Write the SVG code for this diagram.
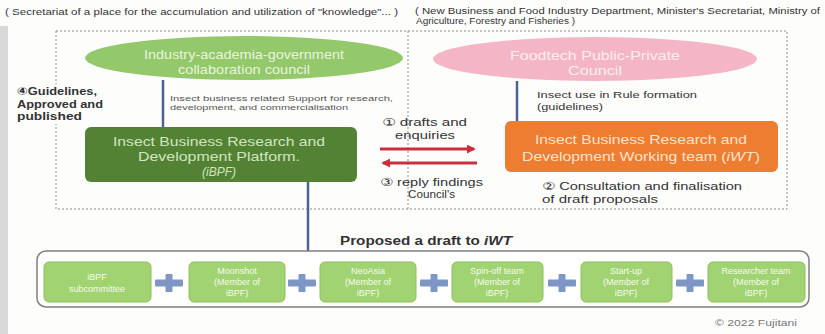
<svg xmlns="http://www.w3.org/2000/svg" width="825" height="334" viewBox="0 0 825 334">
<style>
text{font-family:"Liberation Sans","DejaVu Sans",sans-serif}
.hdr{font-size:8.5px;fill:#333}
.lbl{font-size:11px;fill:#333}
.sm{font-size:7.4px;fill:#555}
.mid{font-size:9.8px;fill:#333}
.ell{text-anchor:middle}
.box{font-size:12.8px;text-anchor:middle}
.mem{fill:#a2d372;stroke:#8cc15a;stroke-width:1}
.memt{font-size:9px;fill:#f4fbec;text-anchor:middle}
.plus{fill:#7f96c4}
.vline{stroke:#4f6296;stroke-width:2.5;fill:none}
.arr{stroke:#c9303e;stroke-width:3;fill:none}
</style>
<defs>
<marker id="ah" viewBox="0 0 10 10" refX="8" refY="5" markerWidth="3" markerHeight="3" orient="auto-start-reverse">
<path d="M0,0 L10,5 L0,10 z" fill="#c9303e"/>
</marker>
<g id="plusShape"><rect x="-14" y="-3.5" width="28" height="7" rx="1"/><rect x="-3.5" y="-9" width="7" height="18" rx="1"/></g>
</defs>
<rect width="825" height="334" fill="#fdfdfc"/>
<rect x="0" y="26" width="8" height="308" fill="#d9d9d9"/>

<text class="hdr" x="5" y="15" textLength="393" lengthAdjust="spacingAndGlyphs">( Secretariat of a place for the accumulation and utilization of "knowledge"... )</text>
<text class="hdr" x="415" y="14" textLength="405" lengthAdjust="spacingAndGlyphs">( New Business and Food Industry Department, Minister's Secretariat, Ministry of</text>
<text class="hdr" x="416" y="24" textLength="159" lengthAdjust="spacingAndGlyphs">Agriculture, Forestry and Fisheries )</text>

<g id="frame" fill="none" stroke="#8c8c8c" stroke-width="1" stroke-dasharray="2 2">
<rect x="56" y="31" width="731" height="178"/>
<line x1="408" y1="31" x2="408" y2="209"/>
</g>

<g id="connectors">
<line class="vline" x1="163" y1="80" x2="163" y2="127"/>
<line class="vline" x1="517" y1="81" x2="517" y2="121"/>
<line class="vline" x1="308" y1="182" x2="308" y2="251"/>
<line class="arr" x1="380" y1="149" x2="474" y2="149" marker-end="url(#ah)"/>
<line class="arr" x1="383" y1="163" x2="477" y2="163" marker-start="url(#ah)"/>
</g>

<g id="guidelines">
<rect x="14" y="84" width="95" height="40" fill="#fdfdfc"/>
<text class="lbl" font-size="10.5" font-weight="bold" x="17" y="95" textLength="80" lengthAdjust="spacingAndGlyphs">④Guidelines,</text>
<text class="lbl" font-size="10.5" font-weight="bold" x="17" y="108" textLength="86" lengthAdjust="spacingAndGlyphs">Approved and</text>
<text class="lbl" font-size="10.5" font-weight="bold" x="17" y="120" textLength="65" lengthAdjust="spacingAndGlyphs">published</text>
</g>

<g id="iag-council">
<ellipse cx="244" cy="58" rx="159" ry="22" fill="#93c86b"/>
<text class="ell" font-size="13" x="244" y="59" fill="#e8f4de" textLength="200" lengthAdjust="spacingAndGlyphs">Industry-academia-government</text>
<text class="ell" font-size="13" x="244" y="74" fill="#e8f4de" textLength="132" lengthAdjust="spacingAndGlyphs">collaboration council</text>
</g>

<g id="foodtech-council">
<ellipse cx="595" cy="59" rx="162" ry="22" fill="#f4b6c4"/>
<text class="ell" font-size="13" x="595" y="60" fill="#fdeef2" textLength="170" lengthAdjust="spacingAndGlyphs">Foodtech Public-Private</text>
<text class="ell" font-size="13" x="595" y="75" fill="#fdeef2" textLength="54" lengthAdjust="spacingAndGlyphs">Council</text>
</g>

<text class="sm" x="170" y="101" textLength="223" lengthAdjust="spacingAndGlyphs">Insect business related Support for research,</text>
<text class="sm" x="170" y="110" textLength="178" lengthAdjust="spacingAndGlyphs">development, and commercialisation</text>
<text class="mid" x="537" y="98" textLength="160" lengthAdjust="spacingAndGlyphs">Insect use in Rule formation</text>
<text class="mid" font-size="8.5" x="537" y="110" textLength="66" lengthAdjust="spacingAndGlyphs">(guidelines)</text>

<g id="ibpf">
<rect x="85" y="127" width="272" height="55" rx="6" fill="#548235"/>
<text class="box" x="219" y="146" fill="#cfe6bd" textLength="212" lengthAdjust="spacingAndGlyphs">Insect Business Research and</text>
<text class="box" x="219" y="161" fill="#cfe6bd" textLength="162" lengthAdjust="spacingAndGlyphs">Development Platform.</text>
<text class="box" x="219" y="176" fill="#cfe6bd" font-style="italic" font-size="11" textLength="34" lengthAdjust="spacingAndGlyphs">(iBPF)</text>
</g>

<g id="iwt">
<rect x="505" y="121" width="273" height="51" rx="6" fill="#ed7d31"/>
<text class="box" font-size="13.5" x="641" y="144" fill="#fde3cf" textLength="212" lengthAdjust="spacingAndGlyphs">Insect Business Research and</text>
<text class="box" font-size="13.5" x="641" y="161" fill="#fde3cf" textLength="238" lengthAdjust="spacingAndGlyphs">Development Working team (<tspan font-style="italic">iWT</tspan>)</text>
</g>

<text class="lbl" x="382" y="126" textLength="85" lengthAdjust="spacingAndGlyphs">① drafts and</text>
<text class="lbl" x="395" y="139" textLength="60" lengthAdjust="spacingAndGlyphs">enquiries</text>
<text class="lbl" font-size="10.5" x="380" y="186" textLength="103" lengthAdjust="spacingAndGlyphs">③ reply findings</text>
<text class="lbl" font-size="10.5" x="408" y="198" textLength="47" lengthAdjust="spacingAndGlyphs">Council's</text>
<text class="lbl" font-size="11.3" x="542" y="190" textLength="200" lengthAdjust="spacingAndGlyphs">② Consultation and finalisation</text>
<text class="lbl" font-size="11.3" x="542" y="203" textLength="116" lengthAdjust="spacingAndGlyphs">of draft proposals</text>

<text x="340" y="245" font-size="12.5" font-weight="bold" fill="#333" textLength="172" lengthAdjust="spacingAndGlyphs">Proposed a draft to <tspan font-style="italic">iWT</tspan></text>

<g id="members">
<rect x="37" y="251" width="772" height="56" rx="9" fill="#fff" stroke="#808080" stroke-width="1.5"/>
<g id="m1"><rect class="mem" x="44" y="262" width="107" height="40" rx="5"/>
<text class="memt" x="97" y="280">iBPF</text><text class="memt" x="97" y="292">subcommittee</text></g>
<g id="m2"><rect class="mem" x="189" y="262" width="96" height="40" rx="5"/>
<text class="memt" x="237" y="274">Moonshot</text><text class="memt" x="237" y="285">(Member of</text><text class="memt" x="237" y="296">iBPF)</text></g>
<g id="m3"><rect class="mem" x="320" y="262" width="96" height="40" rx="5"/>
<text class="memt" x="368" y="274">NeoAsia</text><text class="memt" x="368" y="285">(Member of</text><text class="memt" x="368" y="296">iBPF)</text></g>
<g id="m4"><rect class="mem" x="452" y="262" width="91" height="40" rx="5"/>
<text class="memt" x="497" y="274">Spin-off team</text><text class="memt" x="497" y="285">(Member of</text><text class="memt" x="497" y="296">iBPF)</text></g>
<g id="m5"><rect class="mem" x="581" y="262" width="91" height="40" rx="5"/>
<text class="memt" x="626" y="274">Start-up</text><text class="memt" x="626" y="285">(Member of</text><text class="memt" x="626" y="296">iBPF)</text></g>
<g id="m6"><rect class="mem" x="708" y="262" width="97" height="40" rx="5"/>
<text class="memt" x="756" y="274">Researcher team</text><text class="memt" x="756" y="285">(Member of</text><text class="memt" x="756" y="296">iBPF)</text></g>
<use href="#plusShape" class="plus" x="169" y="283"/>
<use href="#plusShape" class="plus" x="302" y="283"/>
<use href="#plusShape" class="plus" x="434" y="283"/>
<use href="#plusShape" class="plus" x="562" y="283"/>
<use href="#plusShape" class="plus" x="690" y="283"/>
</g>

<text x="797" y="326" font-size="8.5" fill="#777" text-anchor="end" textLength="82" lengthAdjust="spacingAndGlyphs">© 2022 Fujitani</text>
</svg>
